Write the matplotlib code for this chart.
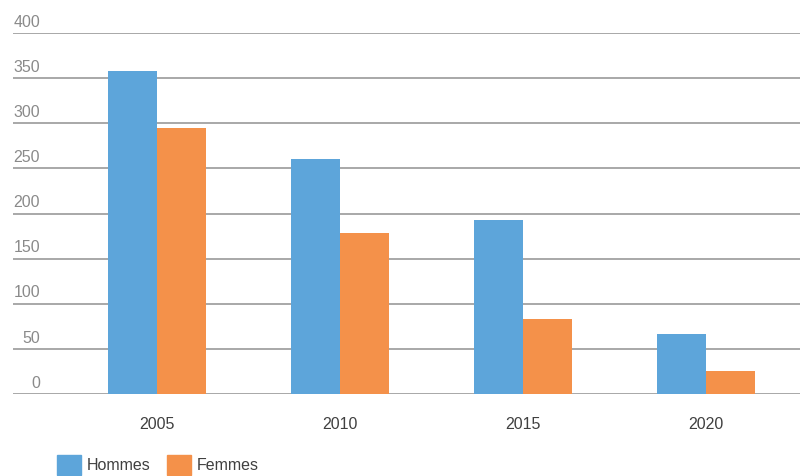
import matplotlib.pyplot as plt
from matplotlib.patches import Rectangle
import numpy as np

# data
years = ['2005', '2010', '2015', '2020']
hommes = [358, 260, 193, 66]
femmes = [295, 178, 83, 25]
series_names = ['Hommes', 'Femmes']
colors = ['#5da5da', '#f4914a']
yticks = [0, 50, 100, 150, 200, 250, 300, 350, 400]

plt.rcParams['font.family'] = ['Liberation Sans', 'DejaVu Sans']

W, H = 803, 477
fig = plt.figure(figsize=(W / 100, H / 100), dpi=100)
ax = fig.add_axes([13 / W, (H - 395) / H, 787 / W, 361 / H])

x = np.arange(len(years))
bw = 0.268
ax.bar(x - bw / 2, hommes, width=bw, color=colors[0], zorder=3)
ax.bar(x + bw / 2, femmes, width=bw, color=colors[1], zorder=3)

ax.set_xlim(-0.787, 3.514)
ax.set_ylim(0, 400)

# gridlines
for t in yticks:
    ax.axhline(t, color='#a8a8a8', lw=1.4, zorder=1)
    ax.annotate(str(t), xy=(27 / 787, t), xycoords=('axes fraction', 'data'),
                xytext=(0, 8.5), textcoords='offset points',
                ha='right', va='center', fontsize=11.5, color='#8a8a8a')

for s in ax.spines.values():
    s.set_visible(False)
ax.set_yticks([])
ax.set_xticks(x)
ax.set_xticklabels(years, fontsize=11.5, color='#404040')
ax.tick_params(axis='x', length=0, pad=16)

# legend
items = [(57, 87), (167, 197)]
for (bx, tx), name, c in zip(items, series_names, colors):
    fig.add_artist(Rectangle((bx / W, (H - 476) / H), 24 / W, 20 / H,
                             transform=fig.transFigure, color=c))
    fig.text(tx / W, (H - 466) / H, name, ha='left', va='center',
             fontsize=11.5, color='#404040')

fig.savefig('out.png', dpi=100)
